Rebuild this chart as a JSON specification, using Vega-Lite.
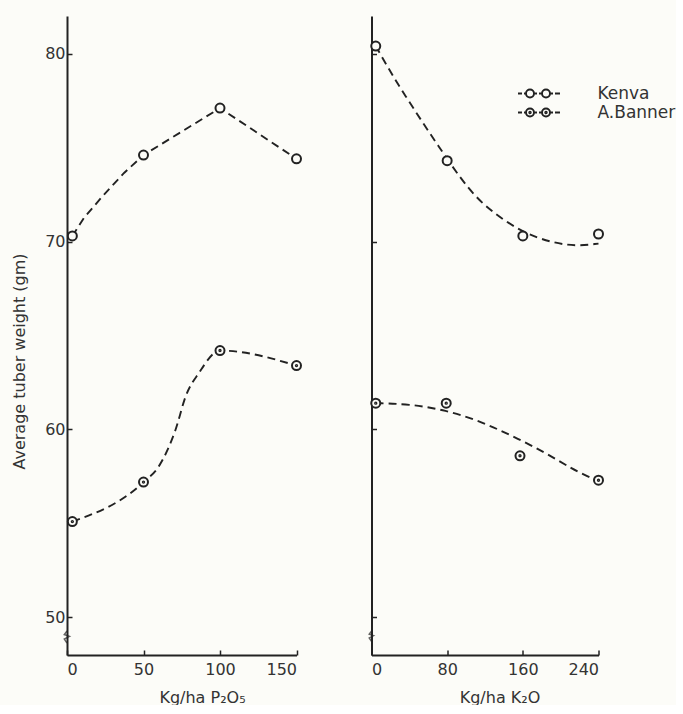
{
  "$schema": "https://vega.github.io/schema/vega-lite/v6.json",
  "background": "#fcfcf8",
  "padding": {"left": 11, "top": 16, "right": 0, "bottom": 0},
  "bounds": "flush",
  "spacing": 74.5,
  "datasets": {
    "pts": [
      {"panel": "P", "variety": "Kenva", "x": 3.5, "y": 70.3},
      {"panel": "P", "variety": "Kenva", "x": 50, "y": 74.6},
      {"panel": "P", "variety": "Kenva", "x": 100, "y": 77.1},
      {"panel": "P", "variety": "Kenva", "x": 150, "y": 74.4},
      {"panel": "P", "variety": "A.Banner", "x": 3.5, "y": 55.1},
      {"panel": "P", "variety": "A.Banner", "x": 50, "y": 57.2},
      {"panel": "P", "variety": "A.Banner", "x": 100, "y": 64.2},
      {"panel": "P", "variety": "A.Banner", "x": 150, "y": 63.4},
      {"panel": "K", "variety": "Kenva", "x": 4.5, "y": 80.4},
      {"panel": "K", "variety": "Kenva", "x": 80, "y": 74.3},
      {"panel": "K", "variety": "Kenva", "x": 160, "y": 70.3},
      {"panel": "K", "variety": "Kenva", "x": 240, "y": 70.4},
      {"panel": "K", "variety": "A.Banner", "x": 4.5, "y": 61.4},
      {"panel": "K", "variety": "A.Banner", "x": 79, "y": 61.4},
      {"panel": "K", "variety": "A.Banner", "x": 157, "y": 58.6},
      {"panel": "K", "variety": "A.Banner", "x": 240, "y": 57.3}
    ],
    "crv": [
      {"panel": "P", "variety": "Kenva", "x": 3.5, "y": 70.3},
      {"panel": "P", "variety": "Kenva", "x": 11.1, "y": 71.26},
      {"panel": "P", "variety": "Kenva", "x": 24.2, "y": 72.5},
      {"panel": "P", "variety": "Kenva", "x": 37.3, "y": 73.65},
      {"panel": "P", "variety": "Kenva", "x": 50, "y": 74.6},
      {"panel": "P", "variety": "Kenva", "x": 100, "y": 77.1},
      {"panel": "P", "variety": "Kenva", "x": 150, "y": 74.4},
      {"panel": "P", "variety": "A.Banner", "x": 3.5, "y": 55.1},
      {"panel": "P", "variety": "A.Banner", "x": 50, "y": 57.2},
      {"panel": "P", "variety": "A.Banner", "x": 60.1, "y": 58.05},
      {"panel": "P", "variety": "A.Banner", "x": 71, "y": 60.0},
      {"panel": "P", "variety": "A.Banner", "x": 77.6, "y": 61.77},
      {"panel": "P", "variety": "A.Banner", "x": 86.3, "y": 63.02},
      {"panel": "P", "variety": "A.Banner", "x": 100, "y": 64.2},
      {"panel": "P", "variety": "A.Banner", "x": 150, "y": 63.4},
      {"panel": "K", "variety": "Kenva", "x": 4.5, "y": 80.4},
      {"panel": "K", "variety": "Kenva", "x": 22.5, "y": 78.8},
      {"panel": "K", "variety": "Kenva", "x": 47.3, "y": 76.85},
      {"panel": "K", "variety": "Kenva", "x": 68.4, "y": 75.25},
      {"panel": "K", "variety": "Kenva", "x": 103.6, "y": 72.65},
      {"panel": "K", "variety": "Kenva", "x": 128.2, "y": 71.55},
      {"panel": "K", "variety": "Kenva", "x": 160, "y": 70.46},
      {"panel": "K", "variety": "Kenva", "x": 191.7, "y": 69.93},
      {"panel": "K", "variety": "Kenva", "x": 216.4, "y": 69.75},
      {"panel": "K", "variety": "Kenva", "x": 240, "y": 69.89},
      {"panel": "K", "variety": "A.Banner", "x": 4.5, "y": 61.4},
      {"panel": "K", "variety": "A.Banner", "x": 40, "y": 61.35},
      {"panel": "K", "variety": "A.Banner", "x": 75.4, "y": 61.06},
      {"panel": "K", "variety": "A.Banner", "x": 110.7, "y": 60.53},
      {"panel": "K", "variety": "A.Banner", "x": 145.9, "y": 59.73},
      {"panel": "K", "variety": "A.Banner", "x": 181.1, "y": 58.85},
      {"panel": "K", "variety": "A.Banner", "x": 212.8, "y": 57.87},
      {"panel": "K", "variety": "A.Banner", "x": 236, "y": 57.34}
    ],
    "brk": [
      {"panel": "P", "x": 0, "y": 48.96},
      {"panel": "K", "x": 0, "y": 49.0}
    ]
  },
  "config": {
    "view": {"stroke": null},
    "font": "DejaVu Sans",
    "axis": {
      "grid": false,
      "domainColor": "#222",
      "domainWidth": 2,
      "tickColor": "#222",
      "tickWidth": 1.5,
      "tickSize": -5,
      "labelColor": "#333",
      "labelFontSize": 16,
      "titleColor": "#333",
      "titleFontWeight": "normal",
      "titleFontSize": 16
    }
  },
  "resolve": {"legend": {"shape": "independent"}, "scale": {"shape": "independent"}},
  "hconcat": [
    {
      "width": 229.5,
      "height": 639,
      "layer": [
        {
          "data": {"name": "crv"},
          "transform": [{"filter": "datum.panel === 'P' && datum.variety === 'Kenva'"}],
          "mark": {"type": "line", "interpolate": "linear", "strokeDash": [8, 5], "strokeWidth": 1.9, "color": "#222"},
          "encoding": {
            "x": {"field": "x", "type": "quantitative", "scale": {"domain": [0, 150], "nice": false, "zero": false},
                  "axis": {"values": [0, 50, 100, 150], "title": "Kg/ha  P₂O₅", "labelPadding": 11, "titlePadding": 12, "titleX": 135}},
            "y": {"field": "y", "type": "quantitative", "scale": {"domain": [48, 82], "nice": false, "zero": false},
                  "axis": {"values": [50, 60, 70, 80], "title": "Average tuber weight (gm)", "labelPadding": 7, "titlePadding": 17, "titleY": 345}}
          }
        },
        {
          "data": {"name": "crv"},
          "transform": [{"filter": "datum.panel === 'P' && datum.variety === 'A.Banner'"}],
          "mark": {"type": "line", "interpolate": "monotone", "strokeDash": [8, 5], "strokeWidth": 1.9, "color": "#222"},
          "encoding": {
            "x": {"field": "x", "type": "quantitative"},
            "y": {"field": "y", "type": "quantitative"}
          }
        },
        {
          "data": {"name": "pts"},
          "transform": [{"filter": "datum.panel === 'P'"}],
          "mark": {"type": "point", "filled": false, "strokeWidth": 2, "size": 81, "color": "#222", "fill": "#fcfcf8", "fillOpacity": 1},
          "encoding": {
            "x": {"field": "x", "type": "quantitative"},
            "y": {"field": "y", "type": "quantitative"},
            "shape": {"field": "variety", "type": "nominal",
                      "scale": {"domain": ["Kenva", "A.Banner"], "range": ["circle", "M -1 0 A 1 1 0 1 0 1 0 A 1 1 0 1 0 -1 0 Z M -0.15 0 A 0.15 0.15 0 1 0 0.15 0 A 0.15 0.15 0 1 0 -0.15 0 Z"]},
                      "legend": null}
          }
        },
        {
          "data": {"name": "brk"},
          "transform": [{"filter": "datum.panel === 'P'"}],
          "mark": {"type": "point", "filled": false, "strokeWidth": 1.5, "size": 144, "color": "#222",
                   "shape": "M 0 -1 L -0.45 -0.4 L 0.4 -0.1 L -0.45 0.35 L 0 1"},
          "encoding": {
            "x": {"field": "x", "type": "quantitative"},
            "y": {"field": "y", "type": "quantitative"}
          }
        }
      ]
    },
    {
      "width": 227,
      "height": 639,
      "resolve": {"scale": {"shape": "independent"}, "legend": {"shape": "independent"}},
      "layer": [
        {
          "data": {"name": "crv"},
          "transform": [{"filter": "datum.panel === 'K'"}],
          "mark": {"type": "line", "interpolate": "basis", "strokeDash": [8, 5], "strokeWidth": 1.9, "color": "#222"},
          "encoding": {
            "x": {"field": "x", "type": "quantitative", "scale": {"domain": [0, 240], "nice": false, "zero": false},
                  "axis": {"values": [0, 80, 160, 240], "title": "Kg/ha  K₂O", "labelPadding": 11, "titlePadding": 12, "titleX": 128}},
            "y": {"field": "y", "type": "quantitative", "scale": {"domain": [48, 82], "nice": false, "zero": false},
                  "axis": {"values": [50, 60, 70, 80], "labels": false, "title": null}},
            "detail": {"field": "variety"}
          }
        },
        {
          "data": {"name": "pts"},
          "transform": [{"filter": "datum.panel === 'K'"}],
          "mark": {"type": "point", "filled": false, "strokeWidth": 2, "size": 81, "color": "#222", "fill": "#fcfcf8", "fillOpacity": 1},
          "encoding": {
            "x": {"field": "x", "type": "quantitative"},
            "y": {"field": "y", "type": "quantitative"},
            "shape": {"field": "variety", "type": "nominal",
                      "scale": {"domain": ["Kenva", "A.Banner"], "range": ["circle", "M -1 0 A 1 1 0 1 0 1 0 A 1 1 0 1 0 -1 0 Z M -0.15 0 A 0.15 0.15 0 1 0 0.15 0 A 0.15 0.15 0 1 0 -0.15 0 Z"]},
                      "legend": null}
          }
        },
        {
          "data": {"name": "pts"},
          "transform": [{"filter": "datum.panel === 'K'"}],
          "mark": {"type": "point", "filled": false, "strokeWidth": 1.5, "size": 0, "color": "#222"},
          "encoding": {
            "x": {"field": "x", "type": "quantitative"},
            "y": {"field": "y", "type": "quantitative"},
            "shape": {"field": "variety", "type": "nominal",
                      "scale": {"domain": ["Kenva", "A.Banner"], "range": [
                        "M -1 0 L -0.2 0 M 0.2 0 L 0.6 0 A 0.8 0.8 0 1 0 2.2 0 A 0.8 0.8 0 1 0 0.6 0 M 2.2 0 L 2.8 0 M 3.2 0 L 3.8 0 A 0.8 0.8 0 1 0 5.4 0 A 0.8 0.8 0 1 0 3.8 0 M 5.4 0 L 6 0 M 6.4 0 L 7.4 0",
                        "M -1 0 L -0.2 0 M 0.2 0 L 0.6 0 A 0.8 0.8 0 1 0 2.2 0 A 0.8 0.8 0 1 0 0.6 0 M 1.25 0 A 0.15 0.15 0 1 0 1.55 0 A 0.15 0.15 0 1 0 1.25 0 M 2.2 0 L 2.8 0 M 3.2 0 L 3.8 0 A 0.8 0.8 0 1 0 5.4 0 A 0.8 0.8 0 1 0 3.8 0 M 4.45 0 A 0.15 0.15 0 1 0 4.75 0 A 0.15 0.15 0 1 0 4.45 0 M 5.4 0 L 6 0 M 6.4 0 L 7.4 0"]},
                      "legend": {
                        "title": null,
                        "orient": "none",
                        "legendX": 143,
                        "legendY": 69,
                        "padding": 0,
                        "symbolSize": 100,
                        "symbolStrokeWidth": 1.9,
                        "symbolStrokeColor": "#222",
                        "symbolFillColor": "transparent",
                        "symbolOpacity": 1,
                        "labelOffset": 66,
                        "labelFontSize": 17,
                        "labelColor": "#333",
                        "rowPadding": 1
                      }}
          }
        },
        {
          "data": {"name": "brk"},
          "transform": [{"filter": "datum.panel === 'K'"}],
          "mark": {"type": "point", "filled": false, "strokeWidth": 1.5, "size": 100, "color": "#222",
                   "shape": "M 0 -1 L -0.45 -0.4 L 0.4 -0.1 L -0.45 0.35 L 0 1"},
          "encoding": {
            "x": {"field": "x", "type": "quantitative"},
            "y": {"field": "y", "type": "quantitative"}
          }
        }
      ]
    }
  ]
}
